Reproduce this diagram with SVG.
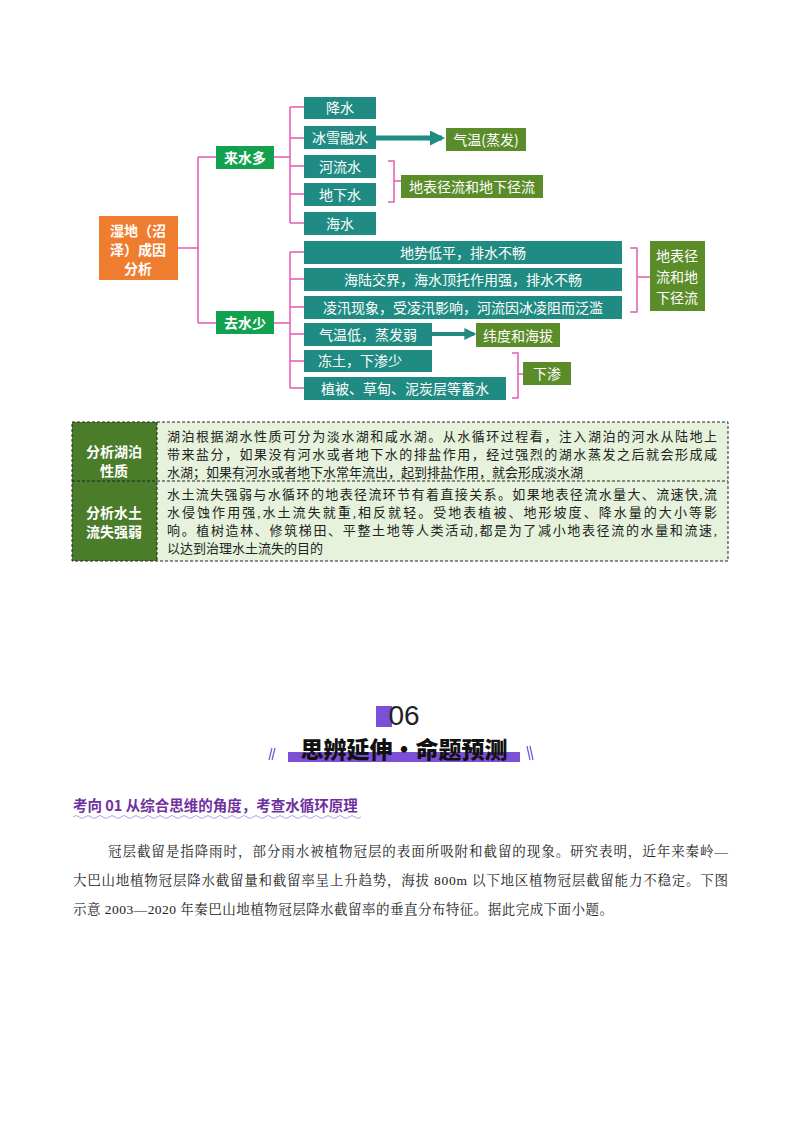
<svg xmlns="http://www.w3.org/2000/svg" width="800" height="1132" viewBox="0 0 800 1132">
<style>
.t{fill:#1f8b82}.g{fill:#5b8c2a}.gb{fill:#12a14e}
.wt{font-family:"Noto Sans CJK SC",sans-serif;fill:#fff;font-size:14px;text-anchor:middle}
.b{font-weight:bold}
.pk{stroke:#e45ab4;stroke-width:1.5;fill:none}
.tx{font-family:"Liberation Serif","Noto Sans CJK SC",serif;font-size:13px;fill:#222}
.bd{font-family:"Liberation Serif","Noto Serif CJK SC","Noto Sans CJK SC",serif;font-size:13.5px;fill:#222}
</style>
<defs><marker id="ar" viewBox="0 0 10 10" refX="8" refY="5" markerWidth="3" markerHeight="3" orient="auto"><path d="M0,0L10,5L0,10z" fill="#1f8b82"/></marker></defs>
<g id="connectors">
<path class="pk" d="M178,248H198M198,157V323M198,157H216M198,323H216"/>
<path class="pk" d="M274,157H290M290,107V223M290,107H304M290,138H304M290,166H304M290,194H304M290,223H304"/>
<path class="pk" d="M274,323H290M290,252V388M290,252H304M290,279H304M290,307H304M290,334H304M290,361H304M290,388H304"/>
<path class="pk" d="M388,161H394V202H388M394,181H401"/>
<path class="pk" d="M630,248H637V312H630M637,277H650"/>
<path class="pk" d="M512,353H518V398H512M518,374H523"/>
<path d="M376,138H442" stroke="#1f8b82" stroke-width="5" marker-end="url(#ar)"/>
<path d="M432,334H474" stroke="#1f8b82" stroke-width="4" marker-end="url(#ar)"/>
</g>
<g id="root"><rect x="99" y="216" width="79" height="64" fill="#ef7d2f"/><text class="wt b" font-size="15" x="138" y="236">湿地（沼</text><text class="wt b" font-size="15" x="138" y="255">泽）成因</text><text class="wt b" font-size="15" x="138" y="274">分析</text></g>
<g id="n1"><rect class="gb" x="216" y="146" width="58" height="23"/><text class="wt b" x="245" y="163">来水多</text></g>
<g id="n2"><rect class="gb" x="216" y="311" width="58" height="23"/><text class="wt b" x="245" y="328">去水少</text></g>
<g id="a1"><rect class="t" x="304" y="97" width="72" height="22"/><text class="wt" x="340" y="113">降水</text></g>
<g id="a2"><rect class="t" x="304" y="126" width="72" height="23"/><text class="wt" x="340" y="143">冰雪融水</text></g>
<g id="a3"><rect class="t" x="304" y="155" width="72" height="23"/><text class="wt" x="340" y="172">河流水</text></g>
<g id="a4"><rect class="t" x="304" y="183" width="72" height="23"/><text class="wt" x="340" y="200">地下水</text></g>
<g id="a5"><rect class="t" x="304" y="212" width="72" height="23"/><text class="wt" x="340" y="229">海水</text></g>
<g id="c1"><rect class="g" x="446" y="128" width="80" height="23"/><text class="wt" x="486" y="145">气温(蒸发)</text></g>
<g id="c2"><rect class="g" x="401" y="175" width="142" height="23"/><text class="wt" x="472" y="192">地表径流和地下径流</text></g>
<g id="b1"><rect class="t" x="304" y="241" width="318" height="23"/><text class="wt" x="463" y="258">地势低平，排水不畅</text></g>
<g id="b2"><rect class="t" x="304" y="268" width="318" height="23"/><text class="wt" x="463" y="285">海陆交界，海水顶托作用强，排水不畅</text></g>
<g id="b3"><rect class="t" x="304" y="296" width="318" height="23"/><text class="wt" x="463" y="313">凌汛现象，受凌汛影响，河流因冰凌阻而泛滥</text></g>
<g id="b4"><rect class="t" x="304" y="323" width="128" height="23"/><text class="wt" x="368" y="340">气温低，蒸发弱</text></g>
<g id="b5"><rect class="t" x="304" y="350" width="128" height="22"/><text class="wt" x="360" y="366">冻土，下渗少</text></g>
<g id="b6"><rect class="t" x="304" y="377" width="202" height="23"/><text class="wt" x="405" y="394">植被、草甸、泥炭层等蓄水</text></g>
<g id="d1"><rect class="g" x="650" y="241" width="55" height="70"/><text class="wt" x="677" y="261">地表径</text><text class="wt" x="677" y="282">流和地</text><text class="wt" x="677" y="303">下径流</text></g>
<g id="d2"><rect class="g" x="476" y="323" width="84" height="24"/><text class="wt" x="518" y="341">纬度和海拔</text></g>
<g id="d3"><rect class="g" x="523" y="362" width="48" height="23"/><text class="wt" x="547" y="379">下渗</text></g>
<g id="table">
<rect x="72" y="422" width="656" height="139" fill="#e6f2dc"/>
<rect x="72" y="422" width="85" height="139" fill="#4a7c2a"/>
<rect x="72" y="422" width="656" height="139" fill="none" stroke="#222" stroke-dasharray="3,2"/>
<path d="M72,481H728M157,422V561" stroke="#222" stroke-dasharray="3,2" fill="none"/>
<text class="wt b" x="114" y="457">分析湖泊</text><text class="wt b" x="114" y="476">性质</text>
<text class="wt b" x="114" y="518">分析水土</text><text class="wt b" x="114" y="537">流失强弱</text>
<text class="tx" x="167" y="441" textLength="550">湖泊根据湖水性质可分为淡水湖和咸水湖。从水循环过程看，注入湖泊的河水从陆地上</text>
<text class="tx" x="167" y="459" textLength="550">带来盐分，如果没有河水或者地下水的排盐作用，经过强烈的湖水蒸发之后就会形成咸</text>
<text class="tx" x="167" y="477">水湖；如果有河水或者地下水常年流出，起到排盐作用，就会形成淡水湖</text>
<text class="tx" x="167" y="499" textLength="550">水土流失强弱与水循环的地表径流环节有着直接关系。如果地表径流水量大、流速快,流</text>
<text class="tx" x="167" y="517" textLength="550">水侵蚀作用强,水土流失就重,相反就轻。受地表植被、地形坡度、降水量的大小等影</text>
<text class="tx" x="167" y="535" textLength="550">响。植树造林、修筑梯田、平整土地等人类活动,都是为了减小地表径流的水量和流速,</text>
<text class="tx" x="167" y="553">以达到治理水土流失的目的</text>
</g>
<g id="heading">
<rect x="376" y="706" width="16" height="21" fill="#7b4fd6"/>
<text x="404" y="725" font-family="Liberation Sans,sans-serif" font-size="28" fill="#222" text-anchor="middle">06</text>
<rect x="288" y="752" width="232" height="10" fill="#7b4fd6"/>
<text x="404" y="758" font-family="Noto Sans CJK SC,sans-serif" font-weight="900" font-size="23" fill="#111" text-anchor="middle">思辨延伸·命题预测</text>
<path d="M272,748L269,760M275,748L272,760M527,746L530,760M530,746L533,760" stroke="#7b4fd6" stroke-width="1.2"/>
<text x="73" y="811" font-family="Noto Sans CJK SC,sans-serif" font-weight="bold" font-size="14.5" fill="#7030a0">考向 01  从综合思维的角度，考查水循环原理</text>
<path d="M73,817q3,-3 6,0t6,0t6,0t6,0t6,0t6,0t6,0t6,0t6,0t6,0t6,0t6,0t6,0t6,0t6,0t6,0t6,0t6,0t6,0t6,0t6,0t6,0t6,0t6,0t6,0t6,0t6,0t6,0t6,0t6,0t6,0t6,0t6,0t6,0t6,0t6,0t6,0t6,0t6,0t6,0t6,0t6,0t6,0t6,0t6,0t6,0t6,0t6,0" stroke="#b9a0e0" fill="none"/>
<text class="bd" x="108" y="856" textLength="620">冠层截留是指降雨时，部分雨水被植物冠层的表面所吸附和截留的现象。研究表明，近年来秦岭—</text>
<text class="bd" x="73" y="885" textLength="655">大巴山地植物冠层降水截留量和截留率呈上升趋势，海拔 800m 以下地区植物冠层截留能力不稳定。下图</text>
<text class="bd" x="73" y="914" textLength="540">示意 2003—2020 年秦巴山地植物冠层降水截留率的垂直分布特征。据此完成下面小题。</text>
</g>
</svg>
